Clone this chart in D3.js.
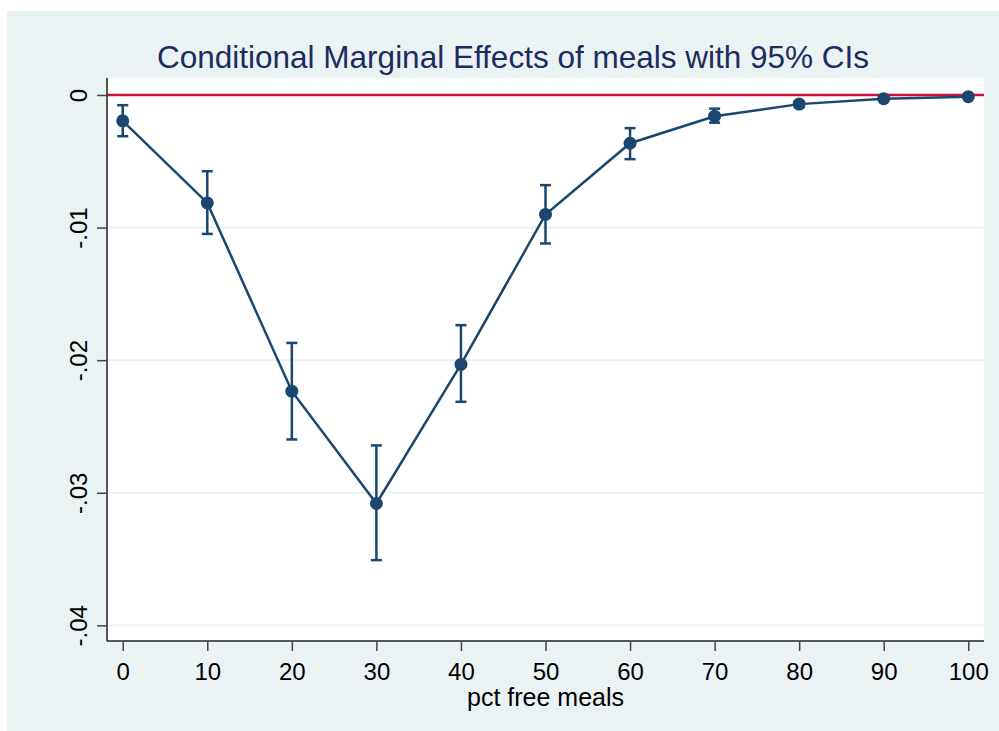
<!DOCTYPE html>
<html>
<head>
<meta charset="utf-8">
<script src="https://cdn.jsdelivr.net/npm/d3@7"></script>
<style>
  html, body { margin: 0; padding: 0; background: #fff; }
  svg { display: block; font-family: "Liberation Sans", Arial, sans-serif; }
</style>
</head>
<body>
<div id="chart"></div>
<script>
// values
var meals = [0, 10, 20, 30, 40, 50, 60, 70, 80, 90, 100]
var effect = [-0.00195, -0.00814, -0.02234, -0.03081, -0.02032, -0.00901, -0.00364, -0.0016, -0.00069, -0.00028, -0.00013]
var ciLow = [-0.00311, -0.01048, -0.02598, -0.03508, -0.02314, -0.0112, -0.00484, -0.00209, -0.00092, -0.00039, -0.0002]
var ciHigh = [-0.00077, -0.00575, -0.0187, -0.02643, -0.01736, -0.0068, -0.0025, -0.00103, -0.00047, -0.00017, -0.00005]
var xTicks = [0, 10, 20, 30, 40, 50, 60, 70, 80, 90, 100]
var yTicks = [0, -0.01, -0.02, -0.03, -0.04]
var yTickLabels = ['0', '-.01', '-.02', '-.03', '-.04']

var width = 999
var height = 731
var plot = { left: 107, right: 984, top: 78, bottom: 641 }
var navy = '#1a476f'
var font = '"Liberation Sans", Arial, sans-serif'

var data = meals.map(function(m, i) {
  return { x: m, y: effect[i], lo: ciLow[i], hi: ciHigh[i] }
})

var x = d3.scaleLinear().domain([-1.86, 101.86]).range([plot.left, plot.right])
var y = d3.scaleLinear().domain([-0.04118, 0.00128]).range([plot.bottom, plot.top])

var svg = d3.select('#chart').append('svg')
  .attr('width', width)
  .attr('height', height)

// outer graph region
svg.append('rect')
  .attr('x', 7).attr('y', 11)
  .attr('width', width - 7).attr('height', height - 11)
  .attr('fill', '#eaf2f3')

// plot region
svg.append('rect')
  .attr('x', plot.left).attr('y', plot.top)
  .attr('width', plot.right - plot.left).attr('height', plot.bottom - plot.top)
  .attr('fill', '#fff')

// gridlines
svg.append('g')
  .selectAll('line')
  .data(yTicks)
  .enter()
  .append('line')
  .attr('x1', plot.left).attr('x2', plot.right)
  .attr('y1', function(d) { return y(d) })
  .attr('y2', function(d) { return y(d) })
  .attr('stroke', '#eaf2f3')
  .attr('stroke-width', 2)

// zero reference line
svg.append('line')
  .attr('x1', plot.left).attr('x2', plot.right)
  .attr('y1', y(0)).attr('y2', y(0))
  .attr('stroke', '#c8103a')
  .attr('stroke-width', 2.5)

// y axis
var yAxis = d3.axisLeft(y)
  .tickValues(yTicks)
  .tickSize(10)
  .tickFormat(function(d, i) { return yTickLabels[i] })
var gy = svg.append('g')
  .attr('transform', 'translate(' + plot.left + ',0)')
  .call(yAxis)
gy.select('.domain').attr('stroke', '#222').attr('stroke-width', 1.5)
  .attr('d', 'M0,' + plot.top + 'V' + plot.bottom)
gy.selectAll('.tick line').attr('stroke', '#444').attr('stroke-width', 1.5)
gy.selectAll('.tick text')
  .attr('x', null).attr('dy', null)
  .attr('transform', 'translate(-20,0) rotate(-90)')
  .attr('text-anchor', 'middle')
  .attr('font-size', 24)
  .attr('font-family', font)
  .attr('fill', '#000')

// x axis
var xAxis = d3.axisBottom(x)
  .tickValues(xTicks)
  .tickSize(10)
var gx = svg.append('g')
  .attr('transform', 'translate(0,' + plot.bottom + ')')
  .call(xAxis)
gx.select('.domain').attr('stroke', '#222').attr('stroke-width', 1.5)
  .attr('d', 'M' + plot.left + ',0H' + plot.right)
gx.selectAll('.tick line').attr('stroke', '#444').attr('stroke-width', 1.5)
gx.selectAll('.tick text')
  .attr('dy', null)
  .attr('y', 38.5)
  .attr('font-size', 24)
  .attr('font-family', font)
  .attr('fill', '#000')

// axis title
svg.append('text')
  .attr('x', (plot.left + plot.right) / 2)
  .attr('y', 706)
  .attr('text-anchor', 'middle')
  .attr('font-size', 25)
  .attr('fill', '#000')
  .text('pct free meals')

// title
svg.append('text')
  .attr('x', 513)
  .attr('y', 68)
  .attr('text-anchor', 'middle')
  .attr('font-size', 31.5)
  .attr('fill', '#1c2c5e')
  .text('Conditional Marginal Effects of meals with 95% CIs')

// confidence intervals
var ci = svg.append('g').attr('stroke', navy).attr('stroke-width', 2.5)
ci.selectAll('line.bar')
  .data(data)
  .enter()
  .append('line')
  .attr('class', 'bar')
  .attr('x1', function(d) { return x(d.x) })
  .attr('x2', function(d) { return x(d.x) })
  .attr('y1', function(d) { return y(d.lo) })
  .attr('y2', function(d) { return y(d.hi) })
ci.selectAll('line.capLo')
  .data(data)
  .enter()
  .append('line')
  .attr('class', 'capLo')
  .attr('x1', function(d) { return x(d.x) - 5.5 })
  .attr('x2', function(d) { return x(d.x) + 5.5 })
  .attr('y1', function(d) { return y(d.lo) })
  .attr('y2', function(d) { return y(d.lo) })
ci.selectAll('line.capHi')
  .data(data)
  .enter()
  .append('line')
  .attr('class', 'capHi')
  .attr('x1', function(d) { return x(d.x) - 5.5 })
  .attr('x2', function(d) { return x(d.x) + 5.5 })
  .attr('y1', function(d) { return y(d.hi) })
  .attr('y2', function(d) { return y(d.hi) })

// connecting line
var line = d3.line()
  .x(function(d) { return x(d.x) })
  .y(function(d) { return y(d.y) })
svg.append('path')
  .datum(data)
  .attr('d', line)
  .attr('fill', 'none')
  .attr('stroke', navy)
  .attr('stroke-width', 2.5)

// markers
svg.append('g')
  .selectAll('circle')
  .data(data)
  .enter()
  .append('circle')
  .attr('cx', function(d) { return x(d.x) })
  .attr('cy', function(d) { return y(d.y) })
  .attr('r', 6.5)
  .attr('fill', navy)
</script>
</body>
</html>
